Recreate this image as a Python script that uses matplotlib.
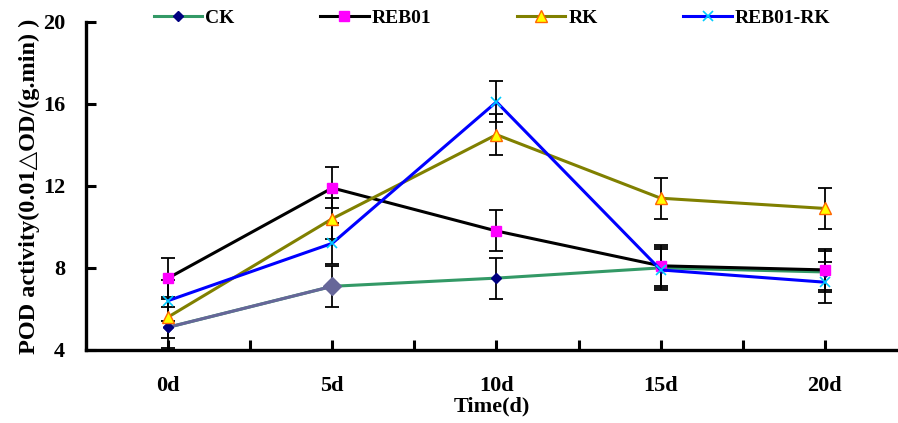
import matplotlib
matplotlib.use("Agg")
import matplotlib.pyplot as plt
import numpy as np
from matplotlib.ticker import MultipleLocator, FixedLocator

plt.rcParams['font.family'] = ['Liberation Serif', 'DejaVu Sans']
plt.rcParams['font.weight'] = 'bold'

# data
days = ['0d', '5d', '10d', '15d', '20d']
ck = [5.1, 7.1, 7.5, 8.0, 7.8]
reb01 = [7.5, 11.9, 9.8, 8.1, 7.9]
rk = [5.6, 10.4, 14.5, 11.4, 10.9]
reb01_rk = [6.4, 9.2, 16.1, 7.9, 7.3]
ck_err = [1.0, 1.0, 1.0, 1.0, 1.0]
reb01_err = [1.0, 1.0, 1.0, 1.0, 1.0]
rk_err = [1.0, 1.0, 1.0, 1.0, 1.0]
reb01_rk_err = [1.0, 1.0, 1.0, 1.0, 1.0]

x = np.arange(len(days))

fig = plt.figure(figsize=(8.98, 4.23), dpi=100)
ax = fig.add_axes([0.0958, 0.173, 0.905, 0.775])

eb = dict(fmt='none', ecolor='black', elinewidth=1.3, capsize=5, capthick=1.3, zorder=2)
ax.errorbar(x, ck, yerr=ck_err, **eb)
ax.errorbar(x, reb01, yerr=reb01_err, **eb)
ax.errorbar(x, rk, yerr=rk_err, **eb)
ax.errorbar(x, reb01_rk, yerr=reb01_rk_err, **eb)

ax.plot(x, ck, color='#339966', lw=2.2, marker='D', ms=5, mfc='#000080', mec='#000080',
        label='CK', zorder=3)
# first segment of CK looks greyish purple in the original
ax.plot(x[:2], ck[:2], color='#666699', lw=2.2, zorder=3.1)
ax.plot(x[1:2], ck[1:2], marker='D', ms=9, color='#666699', ls='none', zorder=3.2)
ax.plot(x[:1], ck[:1], marker='D', ms=5, color='#000080', ls='none', zorder=3.3)
ax.plot(x, reb01, color='black', lw=2.2, marker='s', ms=7, mfc='#ff00ff', mec='#ff00ff',
        label='REB01', zorder=4)
ax.plot(x, rk, color='#808000', lw=2.2, marker='^', ms=8, mfc='#ffff00', mec='#ff6600',
        mew=1, label='RK', zorder=4)
ax.plot(x, reb01_rk, color='#0000ff', lw=2.2, marker='x', ms=7, mec='#00ccff', mew=1.2,
        label='REB01-RK', zorder=5)

ax.set_xlim(-0.5, 4.45)
ax.set_ylim(4, 20)
ax.set_xticks(x)
ax.set_xticklabels(days)
ax.xaxis.set_minor_locator(FixedLocator(np.arange(-0.5, 4.6, 1.0)))
ax.yaxis.set_major_locator(MultipleLocator(4))

for s in ['top', 'right']:
    ax.spines[s].set_visible(False)
for s in ['left', 'bottom']:
    ax.spines[s].set_linewidth(2.4)
ax.tick_params(axis='both', which='both', direction='in', width=2.2, length=7, labelsize=16)
ax.tick_params(axis='x', which='major', pad=19)
ax.tick_params(axis='y', pad=15)

ax.set_ylabel('POD activity(0.01\u25b3OD/(g.min) )', fontsize=17.5, fontweight='bold', labelpad=2)
ax.set_xlabel('Time(d)', fontsize=16, fontweight='bold', labelpad=0)

fig.legend(loc='center', bbox_to_anchor=(0.548, 0.957), ncol=4, frameon=False,
           columnspacing=4.4, handlelength=2.5, handletextpad=0.15, borderaxespad=0,
           prop={'weight': 'bold', 'size': 14})

fig.savefig('out.png', dpi=100)
